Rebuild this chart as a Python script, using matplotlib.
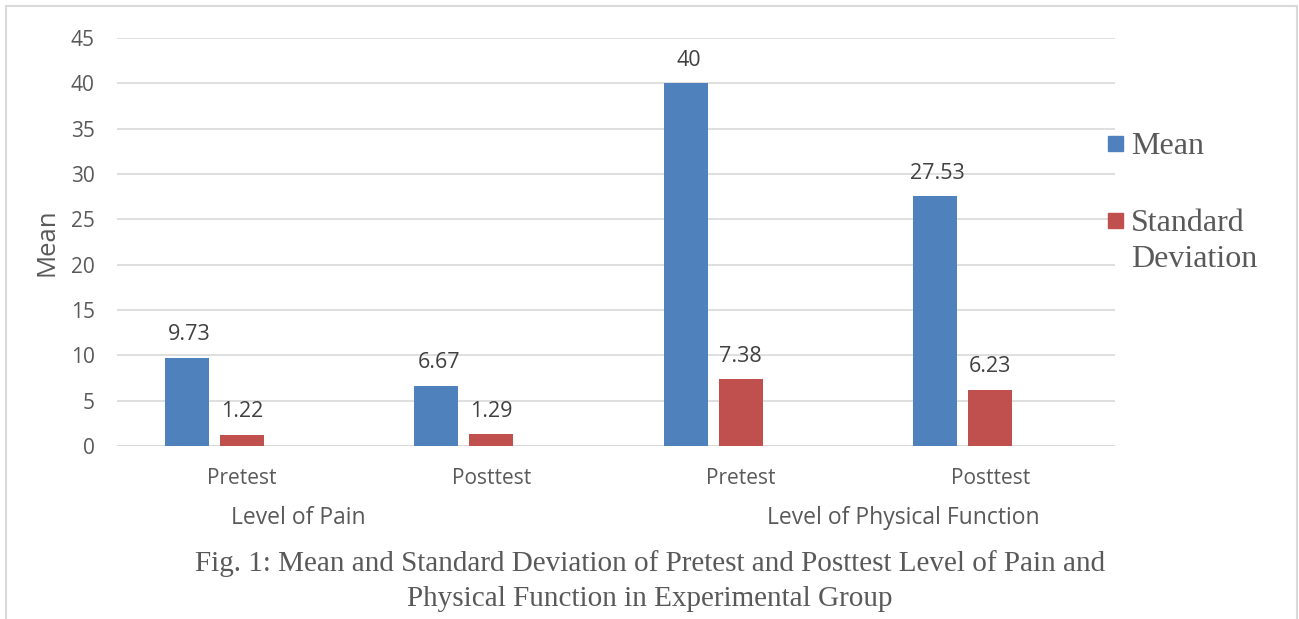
import numpy as np
import matplotlib
matplotlib.use('Agg')
import matplotlib.pyplot as plt
from matplotlib.patches import Rectangle

# data
categories = ['Pretest', 'Posttest', 'Pretest', 'Posttest']
groups = ['Level of Pain', 'Level of Physical Function']
mean_vals = [9.73, 6.67, 40, 27.53]
sd_vals = [1.22, 1.29, 7.38, 6.23]
mean_labels = ['9.73', '6.67', '40', '27.53']
sd_labels = ['1.22', '1.29', '7.38', '6.23']
series = ['Mean', 'Standard\nDeviation']
colors = ['#4f81bd', '#c0504d']

W, H = 1299, 619
fig = plt.figure(figsize=(W / 100, H / 100), dpi=100)
fig.patch.set_facecolor('white')

grey = '#595959'
sans = ['Open Sans', 'DejaVu Sans']
serif = ['Liberation Serif', 'DejaVu Serif']

# outer frame
fig.add_artist(Rectangle((6 / W, -0.01), 1291 / W, 1 - 6 / H + 0.01, transform=fig.transFigure,
                         fill=False, edgecolor='#d9d9d9', lw=1.5))

ax = fig.add_axes([117 / W, 1 - 446 / H, 998 / W, 408 / H])
x = np.arange(len(categories))
bw = 0.176
step = 0.22
ax.bar(x - step, mean_vals, bw, color=colors[0], zorder=3)
ax.bar(x, sd_vals, bw, color=colors[1], zorder=3)

for xi, v, lab in zip(x, mean_vals, mean_labels):
    ax.annotate(lab, (xi - step + 0.01, v), xytext=(0, 9), textcoords='offset points',
                ha='center', va='bottom', fontsize=15.5, color='#404040', family=sans)
for xi, v, lab in zip(x, sd_vals, sd_labels):
    ax.annotate(lab, (xi, v), xytext=(0, 9), textcoords='offset points',
                ha='center', va='bottom', fontsize=15.5, color='#404040', family=sans)

ax.set_xlim(-0.5, 3.5)
ax.set_ylim(0, 45)
ax.set_yticks(np.arange(0, 46, 5))
ax.set_xticks(x)
ax.set_xticklabels(categories)
ax.grid(axis='y', color='#d9d9d9', lw=1.2, zorder=0)
for s in ax.spines.values():
    s.set_visible(False)
ax.axhline(0, color='#d9d9d9', lw=1.5, zorder=2)
ax.tick_params(length=0, labelsize=15, labelcolor=grey)
ax.tick_params(axis='y', pad=16)
ax.tick_params(axis='x', pad=16)
for t in ax.get_xticklabels() + ax.get_yticklabels():
    t.set_family(sans)
ax.set_ylabel('Mean', fontsize=18.5, color=grey, family=sans, labelpad=8)

# group labels
fig.text(298 / W, 1 - 518 / H, groups[0], ha='center', va='center', fontsize=16.5, color=grey, family=sans)
fig.text(903 / W, 1 - 518 / H, groups[1], ha='center', va='center', fontsize=16.5, color=grey, family=sans)

# legend (square sits beside first line of each entry)
for i, (lab, c) in enumerate(zip(series, colors)):
    yc = 143 + 77 * i
    fig.add_artist(Rectangle((1108 / W, 1 - (yc + 7.5) / H), 15 / W, 15 / H,
                             transform=fig.transFigure, color=c))
    fig.text(1131 / W, 1 - (yc - 11) / H, lab, ha='left', va='top', fontsize=23,
             color=grey, family=serif, linespacing=1.3)

# caption
fig.text(650 / W, 1 - 564 / H, 'Fig. 1: Mean and Standard Deviation of Pretest and Posttest Level of Pain and',
         ha='center', va='center', fontsize=21, color=grey, family=serif)
fig.text(650 / W, 1 - 599 / H, 'Physical Function in Experimental Group',
         ha='center', va='center', fontsize=21, color=grey, family=serif)

fig.savefig('out.png', dpi=100)
